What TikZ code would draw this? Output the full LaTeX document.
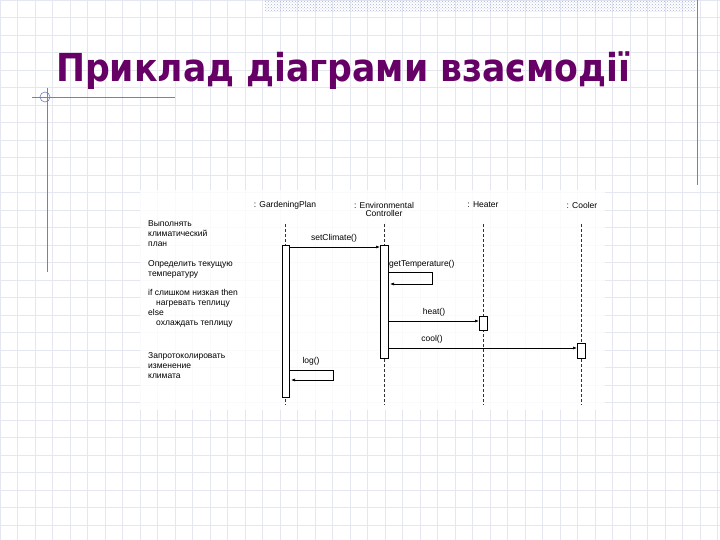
\documentclass[tikz,border=0pt]{standalone}
\usepackage{fontspec}
\setmainfont{Liberation Sans}
\newfontfamily\titlefont{DejaVu Sans Condensed}
\usetikzlibrary{patterns,arrows.meta}
\definecolor{gridc}{RGB}{228,231,240}
\definecolor{ttl}{RGB}{102,0,102}
\definecolor{bluel}{RGB}{110,130,190}
\begin{document}
\begin{tikzpicture}[x=1pt,y=-1pt,
  lbl/.style={font=\fontsize{8.5}{10}\selectfont,inner sep=0pt},
  life/.style={dash pattern=on 3pt off 2pt,line width=1pt,black!80},
  act/.style={draw,fill=white,line width=0.7pt},
  msg/.style={-{Latex[length=4pt,width=3pt]},line width=0.6pt}]
\useasboundingbox (0,0) rectangle (720,540);
\fill[white] (0,0) rectangle (720,540);
\foreach \i in {0,...,41} {\draw[gridc,line width=0.5pt] (\i*17.5,0) -- (\i*17.5,540);}
\foreach \j in {0,...,31} {\draw[gridc,line width=0.5pt] (0,\j*17.5) -- (720,\j*17.5);}
\fill[pattern=crosshatch dots,pattern color=bluel!60] (265,0) rectangle (695,12);
\draw[bluel,line width=0.8pt] (697,0) -- (697,185);
\draw[bluel,line width=0.8pt] (47,88) -- (47,272);
\draw[bluel,line width=0.8pt] (32,97) -- (175,97);
\draw[bluel,line width=0.6pt] (45,97) circle (5);
\node[anchor=west,text=ttl,inner sep=0pt] (title) at (56,71) {\titlefont\bfseries\fontsize{38.5}{42}\selectfont Приклад діаграми взаємодії};
\fill[white,opacity=0.8] (140,190) rectangle (605,410);
% headers
\node[lbl] (gp) at (285,205) {: GardeningPlan};
\node[lbl,align=center] (ec) at (384,209) {: Environmental\\[-2pt]Controller};
\node[lbl] (ht) at (483,205) {: Heater};
\node[lbl] (cl) at (582,205) {: Cooler};
\coordinate (gpT) at (285,224); \coordinate (gpB) at (285,405);
\coordinate (ecT) at (384,224); \coordinate (ecB) at (384,405);
\coordinate (htT) at (483,224); \coordinate (htB) at (483,405);
\coordinate (clT) at (581,224); \coordinate (clB) at (581,405);
\draw[life] (gpT) -- (gpB); \draw[life] (ecT) -- (ecB);
\draw[life] (htT) -- (htB); \draw[life] (clT) -- (clB);
% activations
\draw[act] (282,245) rectangle (289,397);
\draw[act] (380,245) rectangle (388,358);
\draw[act] (479,316) rectangle (487,330);
\draw[act] (577,343) rectangle (585,358);
% messages
\coordinate (a1) at (289,247); \coordinate (a2) at (380,247);
\draw[msg] (a1) -- (a2);
\node[lbl] (m1) at (334,238) {setClimate()};
\draw[msg] (388,272) -- (432,272) -- (432,284) -- (390,284);
\node[lbl,anchor=west] (m2) at (389,264) {getTemperature()};
\draw[msg] (388,321) -- (479,321);
\node[lbl] (m3) at (434,312) {heat()};
\draw[msg] (388,348) -- (577,348);
\node[lbl] (m4) at (432,339) {cool()};
\draw[msg] (289,370) -- (333,370) -- (333,380) -- (291,380);
\node[lbl] (m5) at (311,361) {log()};
% notes
\node[lbl,anchor=north west,align=left] (n1) at (148,220) {Выполнять\\климатический\\план};
\node[lbl,anchor=north west,align=left] (n2) at (148,260) {Определить текущую\\температуру};
\node[lbl,anchor=north west,align=left] (n3) at (148,289) {if слишком низкая then\\\hspace{8pt}нагревать теплицу\\else\\\hspace{8pt}охлаждать теплицу};
\node[lbl,anchor=north west,align=left] (n4) at (148,352) {Запротоколировать\\изменение\\климата};
\end{tikzpicture}
\end{document}
